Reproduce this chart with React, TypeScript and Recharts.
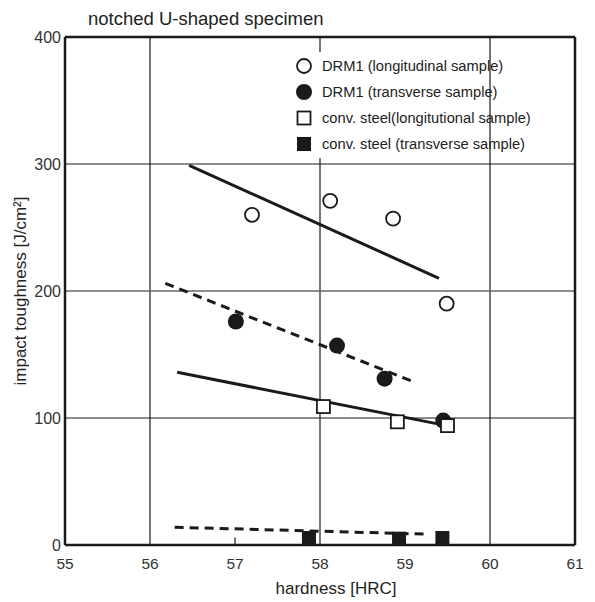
import {
  ComposedChart,
  Scatter,
  Line,
  XAxis,
  YAxis,
  ReferenceLine,
  Legend,
} from 'recharts'

// ============================================
// Data
// ============================================

const xTicks = [55, 56, 57, 58, 59, 60, 61]
const yTicks = [0, 100, 200, 300, 400]

const drmLongX = [57.2, 58.12, 58.86, 59.49]
const drmLongY = [260, 271, 257, 190]

const drmTransX = [57.01, 58.2, 58.76, 59.45]
const drmTransY = [176, 157, 131, 98]

const convLongX = [58.04, 58.91, 59.5]
const convLongY = [109, 97, 94]

const convTransX = [57.87, 58.93, 59.44]
const convTransY = [5.5, 5, 5.5]

// trend lines: [start, end]
const fitDrmLongX = [56.46, 59.4]
const fitDrmLongY = [299, 210]
const fitDrmTransX = [56.18, 59.12]
const fitDrmTransY = [206, 128]
const fitConvLongX = [56.32, 59.49]
const fitConvLongY = [136, 94]
const fitConvTransX = [56.29, 59.27]
const fitConvTransY = [14, 8.5]

const legendLabels = [
  'DRM1 (longitudinal sample)',
  'DRM1 (transverse sample)',
  'conv. steel(longitutional sample)',
  'conv. steel (transverse sample)',
]
const legendMarkers = ['openCircle', 'filledCircle', 'openSquare', 'filledSquare']

const zip = (xs: number[], ys: number[]) => xs.map((x, i) => ({ x, y: ys[i] }))

const INK = '#1a1a1a'
const FONT = '"Liberation Sans", Arial, sans-serif'

// ============================================
// Markers
// ============================================

function Marker({ kind, cx, cy }: { kind: string; cx: number; cy: number }) {
  if (kind === 'openCircle')
    return <circle cx={cx} cy={cy} r={7} fill="#fff" stroke={INK} strokeWidth={1.8} />
  if (kind === 'filledCircle') return <circle cx={cx} cy={cy} r={8} fill={INK} />
  if (kind === 'openSquare')
    return <rect x={cx - 6.5} y={cy - 6.5} width={13} height={13} fill="#fff" stroke={INK} strokeWidth={1.8} />
  return <rect x={cx - 7} y={cy - 7} width={14} height={14} fill={INK} />
}

const shapeOf = (kind: string) => (p: any) => <Marker kind={kind} cx={p.cx} cy={p.cy} />

function LegendBox() {
  return (
    <div
      style={{
        background: '#fff',
        width: 185,
        paddingTop: 1,
        paddingBottom: 1,
        fontFamily: FONT,
        fontSize: 14.7,
        color: '#222',
        whiteSpace: 'nowrap',
      }}
    >
      {legendLabels.map((label, i) => (
        <div key={label} style={{ display: 'flex', alignItems: 'center', height: 26 }}>
          <svg width={28} height={20} style={{ overflow: 'visible', flex: 'none' }}>
            <Marker kind={legendMarkers[i]} cx={14} cy={10} />
          </svg>
          <span style={{ marginLeft: 4 }}>{label}</span>
        </div>
      ))}
    </div>
  )
}

// ============================================
// App
// ============================================

export default function App() {
  return (
    <div style={{ position: 'absolute', left: 0, top: 0, width: 595, height: 602, background: '#fff' }}>
      <div
        style={{
          position: 'absolute',
          left: 88,
          top: 8,
          fontFamily: FONT,
          fontSize: 18.5,
          color: '#222',
          whiteSpace: 'nowrap',
        }}
      >
        notched U-shaped specimen
      </div>
      <ComposedChart
        width={595}
        height={602}
        margin={{ top: 37, right: 20, left: 0, bottom: 0 }}
        style={{ fontFamily: FONT }}
      >
        <XAxis
          type="number"
          dataKey="x"
          domain={[55, 61]}
          ticks={xTicks}
          height={57}
          tickSize={0}
          tickMargin={13}
          axisLine={{ stroke: INK, strokeWidth: 2.5 }}
          tick={{ fill: '#333', fontSize: 15.5 }}
          label={{ value: 'hardness [HRC]', position: 'insideBottom', offset: 8, dx: 16, fill: '#222', fontSize: 17 }}
        />
        <YAxis
          type="number"
          dataKey="y"
          domain={[0, 400]}
          ticks={yTicks}
          width={65}
          tickSize={0}
          tickMargin={4}
          axisLine={{ stroke: INK, strokeWidth: 2.5 }}
          tick={{ fill: '#333', fontSize: 16 }}
          label={{
            value: 'impact toughness [J/cm²]',
            angle: -90,
            position: 'insideLeft',
            offset: 20,
            style: { textAnchor: 'middle' },
            fill: '#222',
            fontSize: 17,
          }}
        />

        {/* grid + frame */}
        {[56, 58, 60].map((v) => (
          <ReferenceLine key={`vx${v}`} x={v} stroke={INK} strokeWidth={1.2} />
        ))}
        {[100, 300].map((v) => (
          <ReferenceLine key={`hy${v}`} y={v} stroke={INK} strokeWidth={1.2} />
        ))}
        <ReferenceLine y={200} stroke="#666" strokeWidth={1.5} />
        <ReferenceLine y={400} stroke={INK} strokeWidth={2.5} />
        <ReferenceLine x={61} stroke={INK} strokeWidth={2.5} />
        {[57, 59].map((v) => (
          <ReferenceLine
            key={`tk${v}`}
            segment={[{ x: v, y: 0 }, { x: v, y: 6 }]}
            stroke={INK}
            strokeWidth={1.2}
          />
        ))}

        {/* trend lines */}
        <Line data={zip(fitDrmLongX, fitDrmLongY)} dataKey="y" type="linear" stroke={INK} strokeWidth={3} dot={false} activeDot={false} isAnimationActive={false} legendType="none" />
        <Line data={zip(fitDrmTransX, fitDrmTransY)} dataKey="y" type="linear" stroke={INK} strokeWidth={3} strokeDasharray="9 6" dot={false} activeDot={false} isAnimationActive={false} legendType="none" />
        <Line data={zip(fitConvLongX, fitConvLongY)} dataKey="y" type="linear" stroke={INK} strokeWidth={3} dot={false} activeDot={false} isAnimationActive={false} legendType="none" />
        <Line data={zip(fitConvTransX, fitConvTransY)} dataKey="y" type="linear" stroke={INK} strokeWidth={3} strokeDasharray="9 6" dot={false} activeDot={false} isAnimationActive={false} legendType="none" />

        {/* measured points */}
        <Scatter data={zip(drmLongX, drmLongY)} shape={shapeOf('openCircle')} isAnimationActive={false} />
        <Scatter data={zip(drmTransX, drmTransY)} shape={shapeOf('filledCircle')} isAnimationActive={false} />
        <Scatter data={zip(convLongX, convLongY)} shape={shapeOf('openSquare')} isAnimationActive={false} />
        <Scatter data={zip(convTransX, convTransY)} shape={shapeOf('filledSquare')} isAnimationActive={false} />

        <Legend
          layout="vertical"
          align="center"
          verticalAlign="middle"
          content={() => <LegendBox />}
          wrapperStyle={{ position: 'absolute', left: 290, top: 52, width: 'auto', height: 'auto' }}
        />
      </ComposedChart>
    </div>
  )
}
